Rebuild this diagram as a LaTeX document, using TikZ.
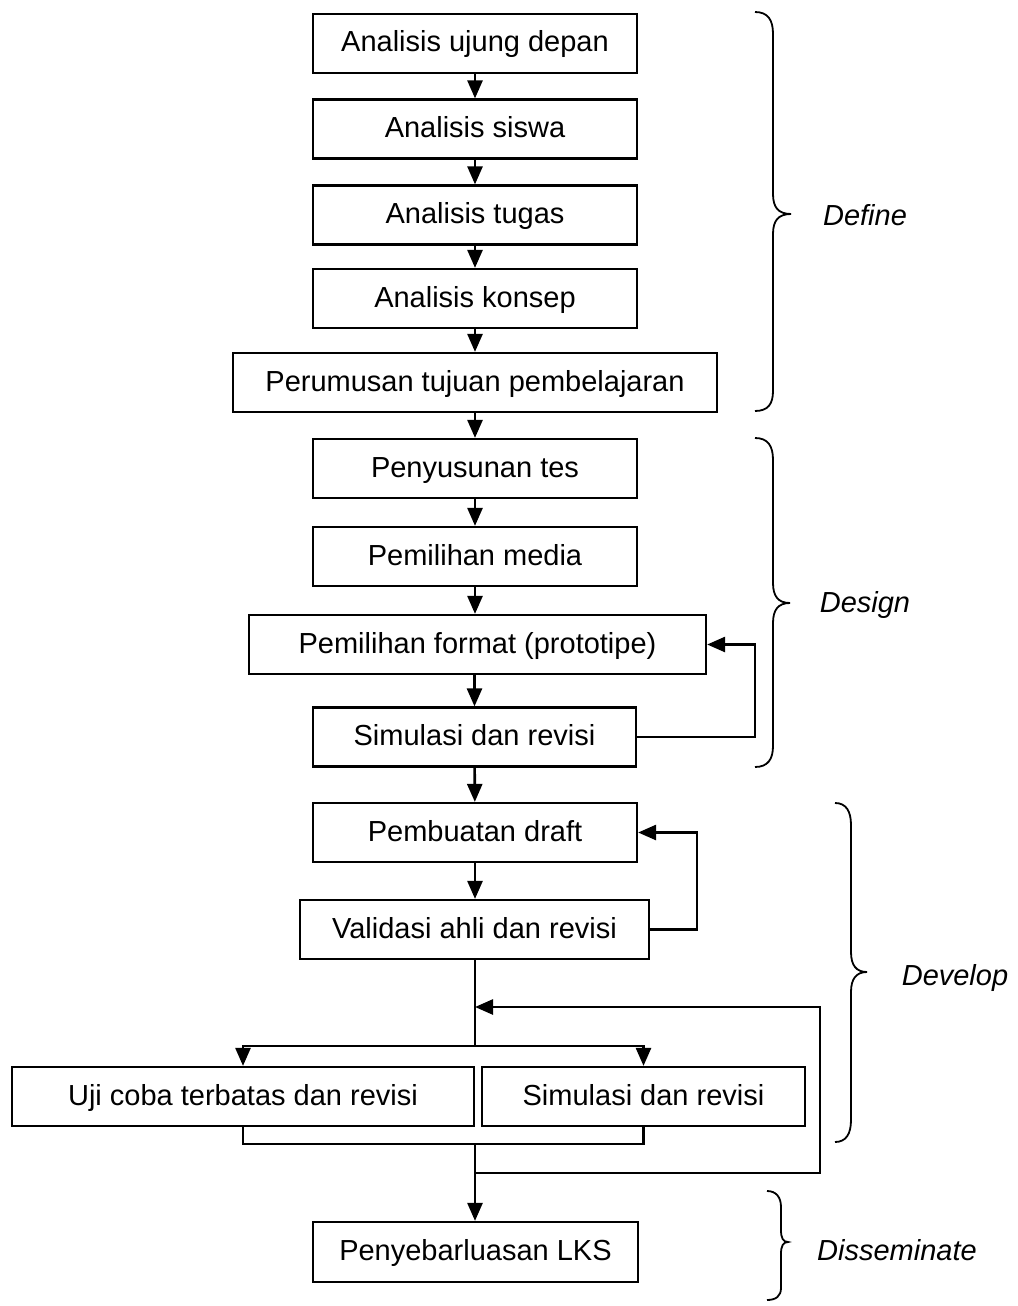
\documentclass[tikz,border=0pt]{standalone}
\usepackage{fontspec}
\setmainfont{Liberation Sans}
\usetikzlibrary{arrows.meta}
\begin{document}
\begin{tikzpicture}[x=1pt,y=-1pt,
  box/.style={draw, line width=2.2pt, inner sep=0pt, minimum height=59pt,
    text height=21pt, text depth=4pt,
    font=\fontsize{29}{34}\selectfont},
  line/.style={line width=2.6pt},
  conn/.style={line width=2.6pt, -{Triangle[length=18pt,width=15pt]}},
  brace/.style={line width=1.8pt},
  phase/.style={font=\fontsize{29}{34}\selectfont\itshape}]
\useasboundingbox (0,0) rectangle (1017,1306);
% boxes
\node[box, minimum width=324pt] (b1) at (475,43.5) {Analisis ujung depan};
\node[box, minimum width=324pt] (b2) at (475,129) {Analisis siswa};
\node[box, minimum width=324pt] (b3) at (475,215) {Analisis tugas};
\node[box, minimum width=324pt] (b4) at (475,298.5) {Analisis konsep};
\node[box, minimum width=484pt] (b5) at (475,382.5) {Perumusan tujuan pembelajaran};
\node[box, minimum width=324pt] (b6) at (475,468.5) {Penyusunan tes};
\node[box, minimum width=324pt] (b7) at (475,556.5) {Pemilihan media};
\node[box, minimum width=457pt] (b8) at (477.5,644.5) {Pemilihan format (prototipe)};
\node[box, minimum width=323pt] (b9) at (474.5,737) {Simulasi dan revisi};
\node[box, minimum width=324pt] (b10) at (475,832.5) {Pembuatan draft};
\node[box, minimum width=349pt] (b11) at (474.5,929.5) {Validasi ahli dan revisi};
\node[box, minimum width=462pt] (b12) at (243,1096.5) {Uji coba terbatas dan revisi};
\node[box, minimum width=323pt] (b13) at (643.5,1096.5) {Simulasi dan revisi};
\node[box, minimum width=325pt, minimum height=60pt] (b14) at (475.5,1252) {Penyebarluasan LKS};
% straight arrows
\draw[conn] (b1) -- (b2);
\draw[conn] (b2) -- (b3);
\draw[conn] (b3) -- (b4);
\draw[conn] (b4) -- (b5);
\draw[conn] (b5) -- (b6);
\draw[conn] (b6) -- (b7);
\draw[conn] (b7.south) -- (b8.north -| b7.south);
\draw[conn] (b8.south -| b9.north) -- (b9.north);
\draw[conn] (b9) -- (b10);
\draw[conn] (b10.south) -- (b11.north -| b10.south);
% feedback loops
\draw[conn] (b9.east) -- ++(118,0) |- (b8.east);
\draw[conn] (b11.east) -- ++(47,0) |- (b10.east);
% develop split
\coordinate (split) at (475,1046);
\coordinate (join) at (475,1007);
\coordinate (merge) at (475,1143);
\coordinate (ret) at (475,1173);
\coordinate (rc1) at (820,1173);
\coordinate (rc2) at (820,1007);
\draw[line] (b11.south -| split) -- (split);
\draw[conn] (split) -| (b12.north);
\draw[conn] (split) -| (b13.north);
\draw[line] (b12.south) -- ++(0,17) -| (b13.south);
\draw[conn] (merge) -- (b14.north -| merge);
\draw[conn] (ret) -- (rc1) -- (rc2) -- (join);
% braces
\draw[brace] (755,12) .. controls (768,12) and (773,20) .. (773,34)
  -- (773,194) .. controls (773,207) and (778,214) .. (791,214)
  .. controls (778,214) and (773,221) .. (773,234)
  -- (773,391) .. controls (773,404) and (768,411) .. (755,411);
\draw[brace] (755,438) .. controls (768,438) and (773,446) .. (773,460)
  -- (773,583) .. controls (773,596) and (778,603) .. (790,603)
  .. controls (778,603) and (773,610) .. (773,623)
  -- (773,746) .. controls (773,759) and (768,767) .. (755,767);
\draw[brace] (835,803) .. controls (846,803) and (851,811) .. (851,825)
  -- (851,952) .. controls (851,965) and (856,972) .. (867,972)
  .. controls (856,972) and (851,979) .. (851,992)
  -- (851,1120) .. controls (851,1134) and (846,1142) .. (835,1142);
\draw[brace] (767,1191) .. controls (776,1191) and (781,1197) .. (781,1207)
  -- (781,1230) .. controls (781,1238) and (783,1242) .. (788,1242)
  .. controls (783,1242) and (781,1246) .. (781,1254)
  -- (781,1288) .. controls (781,1296) and (776,1300) .. (767,1300);
% phase labels
\node[phase] (define) at (865,215) {Define};
\node[phase] (design) at (865,605) {Design};
\node[phase] (develop) at (955,978) {Develop};
\node[phase] (dissem) at (897,1250) {Disseminate};
\end{tikzpicture}
\end{document}
